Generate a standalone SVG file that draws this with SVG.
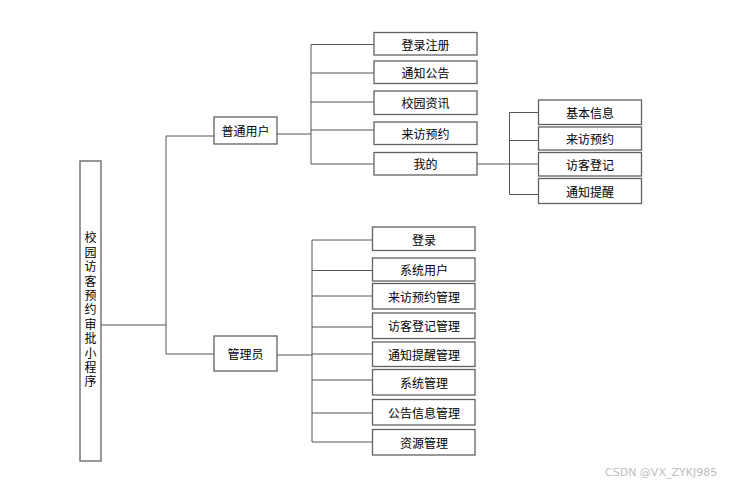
<svg xmlns="http://www.w3.org/2000/svg" width="737" height="486" viewBox="0 0 737 486">
<style>
.box{fill:#fff;stroke:#616161;stroke-width:1.3}
.t{font-family:"Noto Sans CJK SC","Liberation Sans",sans-serif;font-size:12px;fill:#000;text-anchor:middle;dominant-baseline:central}
.v{writing-mode:vertical-rl;text-orientation:upright;letter-spacing:2.4px}
.ln{fill:none;stroke:#555;stroke-width:1}
.wm{font-family:"DejaVu Sans","Liberation Sans",sans-serif;font-size:11px;fill:#bdbdbd}
</style>
<rect width="737" height="486" fill="#fff"/>
<g id="connectors" class="ln">
<path d="M101 325H166M166 136V354M166 136H214M166 354H214"/>
<path d="M277 134H311M311 44.5V164M311 44.5H374M311 73H374M311 102H374M311 130H374M311 164H374"/>
<path d="M477 164H509.5M509.5 112.5V194.5M509.5 112.5H538M509.5 140.5H538M509.5 164H538M509.5 194.5H538"/>
<path d="M277 355H312M312 240V442M312 240H372M312 270.5H372M312 296H372M312 327H372M312 354H372M312 380H372M312 413H372M312 442H372"/>
</g>
<g id="root"><rect class="box" x="80" y="161" width="21" height="300"/>
<text class="t v" x="90.5" y="311">校园访客预约审批小程序</text></g>
<g id="n_user"><rect class="box" x="214" y="117" width="63" height="27"/><text class="t" x="245.5" y="130.5">普通用户</text></g>
<g id="n_admin"><rect class="box" x="214" y="336" width="63" height="35"/><text class="t" x="245.5" y="353.5">管理员</text></g>
<g id="u1"><rect class="box" x="374" y="32.5" width="103" height="22.5"/><text class="t" x="425.5" y="44">登录注册</text></g>
<g id="u2"><rect class="box" x="374" y="61" width="103" height="22.5"/><text class="t" x="425.5" y="72.5">通知公告</text></g>
<g id="u3"><rect class="box" x="374" y="91" width="103" height="23.5"/><text class="t" x="425.5" y="102.5">校园资讯</text></g>
<g id="u4"><rect class="box" x="374" y="122" width="103" height="22.5"/><text class="t" x="425.5" y="133">来访预约</text></g>
<g id="u5"><rect class="box" x="374" y="152.5" width="103" height="22.5"/><text class="t" x="425.5" y="163.5">我的</text></g>
<g id="m1"><rect class="box" x="538.5" y="100" width="103" height="24.5"/><text class="t" x="590" y="112">基本信息</text></g>
<g id="m2"><rect class="box" x="538.5" y="127" width="103" height="23"/><text class="t" x="590" y="138.5">来访预约</text></g>
<g id="m3"><rect class="box" x="538.5" y="152.5" width="103" height="23.5"/><text class="t" x="590" y="164">访客登记</text></g>
<g id="m4"><rect class="box" x="538.5" y="178.5" width="103" height="25"/><text class="t" x="590" y="191">通知提醒</text></g>
<g id="a1"><rect class="box" x="372.5" y="227" width="102.5" height="23.5"/><text class="t" x="424" y="239">登录</text></g>
<g id="a2"><rect class="box" x="372.5" y="258" width="102.5" height="23"/><text class="t" x="424" y="269.5">系统用户</text></g>
<g id="a3"><rect class="box" x="372.5" y="283.5" width="102.5" height="25.5"/><text class="t" x="424" y="296">来访预约管理</text></g>
<g id="a4"><rect class="box" x="372.5" y="313" width="102.5" height="25.5"/><text class="t" x="424" y="325.5">访客登记管理</text></g>
<g id="a5"><rect class="box" x="372.5" y="342" width="102.5" height="24.5"/><text class="t" x="424" y="354">通知提醒管理</text></g>
<g id="a6"><rect class="box" x="372.5" y="369.5" width="102.5" height="25.5"/><text class="t" x="424" y="382">系统管理</text></g>
<g id="a7"><rect class="box" x="372.5" y="399.5" width="102.5" height="25.5"/><text class="t" x="424" y="412">公告信息管理</text></g>
<g id="a8"><rect class="box" x="372.5" y="429.5" width="102.5" height="25.5"/><text class="t" x="424" y="442">资源管理</text></g>
<text class="wm" x="605" y="476">CSDN @VX_ZYKJ985</text>
</svg>
